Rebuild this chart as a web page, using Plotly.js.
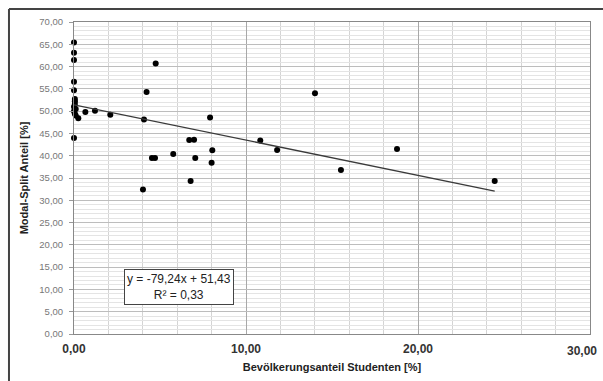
<!DOCTYPE html>
<html>
<head>
<meta charset="utf-8">
<script src="https://cdn.plot.ly/plotly-3.0.1.min.js"></script>
<style>
html,body{margin:0;padding:0;background:#fff;}
#chart{width:603px;height:381px;}
</style>
</head>
<body>
<div id="chart"></div>
<script>
// Bevölkerungsanteil Studenten [%]
const studentShare = [
  0.0, 0.0, 0.0, 0.0, 0.0, 0.05, 0.05, 0.05, 0.0, 0.1, 0.0, 0.05, 0.1, 0.0,
  0.25, 0.66, 1.22, 2.11, 4.07, 4.22, 4.75, 4.01, 4.53, 4.71, 5.77,
  6.70, 6.98, 6.78, 7.05, 7.91, 8.04, 8.00, 10.83, 11.81, 14.01,
  15.52, 18.78, 24.46
];
// Modal-Split Anteil [%]
const modalSplit = [
  65.4, 63.1, 61.5, 56.6, 54.7, 52.7, 52.2, 51.6, 51.0, 50.5, 50.0, 49.4, 49.0, 44.0,
  48.4, 49.8, 50.1, 49.2, 48.1, 54.3, 60.7, 32.4, 39.5, 39.5, 40.4,
  43.5, 43.6, 34.3, 39.5, 48.6, 41.2, 38.4, 43.4, 41.3, 54.0,
  36.8, 41.5, 34.3
];
// Trend line (Excel linear regression, x as fraction)
const trendSlope = -79.24;
const trendIntercept = 51.43;
const trendLabel = "y = -79,24x + 51,43<br>R² = 0,33";

// x tick labels
const xTickVals = [0, 10, 20, 30];
const xTickText = ["0,00", "10,00", "20,00", "30,00"];

const xTitle = "Bevölkerungsanteil Studenten [%]";
const yTitle = "Modal-Split Anteil [%]";

const xMax = Math.max(...studentShare);
const trendX = [0, xMax];
const trendY = trendX.map(v => trendIntercept + trendSlope * v / 100);

const traces = [
  {
    x: studentShare, y: modalSplit, type: 'scatter', mode: 'markers',
    marker: {color: '#000', size: 6, symbol: 'circle'},
    cliponaxis: false, hoverinfo: 'x+y'
  },
  {
    x: trendX, y: trendY, type: 'scatter', mode: 'lines',
    line: {color: '#3a3a3a', width: 1.3}, hoverinfo: 'skip'
  }
];

const tickFont = {size: 12, color: '#333', family: 'Liberation Sans, Arial, sans-serif', weight: 'bold'};

// the last x tick label sits flush with the right edge in the original
const lastIdx = xTickVals.length - 1;

const layout = {
  width: 603, height: 381,
  margin: {l: 74, r: 13, t: 22, b: 47, pad: 0},
  paper_bgcolor: '#fff', plot_bgcolor: '#fff',
  separators: ',.',
  showlegend: false,
  font: {family: 'Liberation Sans, Arial, sans-serif', color: '#333'},
  xaxis: {
    range: [0, 30], tickmode: 'array',
    tickvals: xTickVals.slice(0, lastIdx), ticktext: xTickText.slice(0, lastIdx),
    showgrid: true, gridcolor: '#a8a8a8', gridwidth: 1,
    minor: {tickmode: 'linear', tick0: 0, dtick: 2, showgrid: true, gridcolor: '#d4d4d4', gridwidth: 1},
    zeroline: false,
    showline: true, linecolor: '#888', linewidth: 1, mirror: true,
    ticks: '', ticklabelstandoff: 4,
    tickfont: tickFont,
    title: {text: '<b>' + xTitle + '</b>', font: {size: 11, color: '#222'}, standoff: 7}
  },
  yaxis: {
    range: [0, 70], dtick: 5, tick0: 0, tickformat: '.2f',
    showgrid: true, gridcolor: '#bdbdbd', gridwidth: 1,
    minor: {dtick: 1, showgrid: true, gridcolor: '#e4e4e4', gridwidth: 1},
    zeroline: false,
    showline: true, linecolor: '#888', linewidth: 1, mirror: true,
    ticks: 'outside', ticklen: 4, tickcolor: '#999',
    ticklabelstandoff: 4,
    tickfont: {size: 9.5, color: '#777'},
    title: {text: '<b>' + yTitle + '</b>', font: {size: 11, color: '#222'}, standoff: 8}
  },
  annotations: [
    {
      xref: 'x', yref: 'y', x: 6.1, y: 10.6,
      text: trendLabel, showarrow: false,
      font: {size: 12, color: '#222', family: 'Liberation Sans, Arial, sans-serif'},
      bordercolor: '#444', borderwidth: 1, borderpad: 2, bgcolor: '#fff',
      align: 'center'
    },
    {
      xref: 'x', yref: 'paper', x: xTickVals[lastIdx], y: 0,
      text: xTickText[lastIdx], showarrow: false,
      xanchor: 'right', yanchor: 'top', xshift: 9, yshift: -8,
      font: tickFont
    }
  ],
  shapes: [
    {type: 'line', xref: 'paper', yref: 'paper', x0: -0.126, x1: 1.03, y0: 1.0417, y1: 1.0417,
     line: {color: '#444', width: 2}},
    {type: 'line', xref: 'paper', yref: 'paper', x0: -0.126, x1: -0.126, y0: 1.0417, y1: -0.16,
     line: {color: '#444', width: 2}}
  ]
};

Plotly.newPlot('chart', traces, layout, {displayModeBar: false, staticPlot: true});
</script>
</body>
</html>
